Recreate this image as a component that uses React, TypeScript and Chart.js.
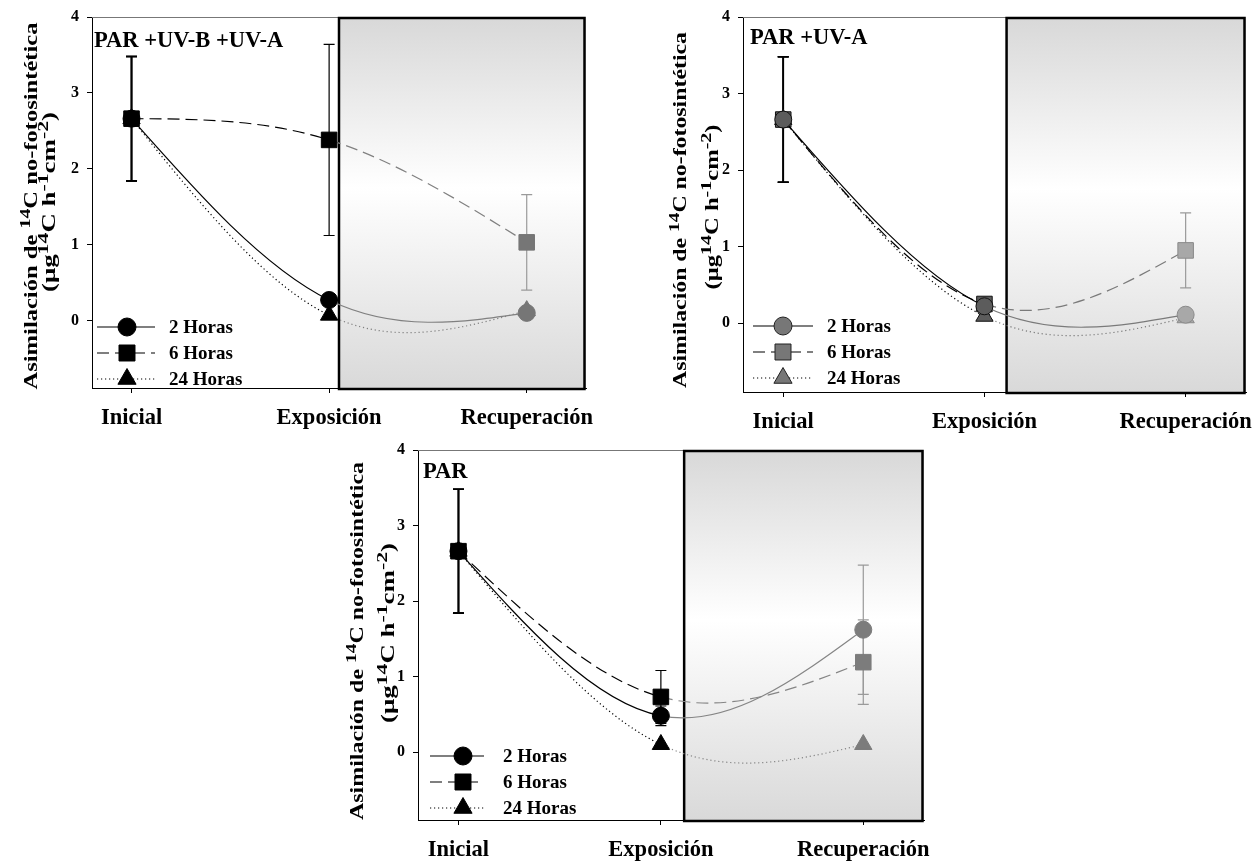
import { useEffect, useRef } from 'react';
import { Chart, registerables } from 'chart.js';

Chart.register(...registerables);

const FONT = "'Liberation Serif', 'Times New Roman', serif";
Chart.defaults.font.family = FONT;

// ---------- DATA ----------
const categories = ['Inicial', 'Exposición', 'Recuperación'];
const xValues = [0, 1, 2];
const yTicks = [0, 1, 2, 3, 4];
const seriesNames = ['2 Horas', '6 Horas', '24 Horas'];

// Panel 1: PAR +UV-B +UV-A
const p1Title = 'PAR +UV-B +UV-A';
const p1Horas2 = [2.66, 0.27, 0.1];
const p1Horas6 = [2.66, 2.38, 1.03];
const p1Horas24 = [2.66, 0.07, 0.13];
const p1Err2 = [0.82, 0, 0];
const p1Err6 = [0.82, 1.26, 0.63];
const p1Err24 = [0.82, 0, 0];

// Panel 2: PAR +UV-A
const p2Title = 'PAR +UV-A';
const p2Horas2 = [2.66, 0.22, 0.11];
const p2Horas6 = [2.66, 0.25, 0.95];
const p2Horas24 = [2.66, 0.09, 0.07];
const p2Err2 = [0.82, 0.11, 0];
const p2Err6 = [0.82, 0, 0.49];
const p2Err24 = [0.82, 0, 0];

// Panel 3: PAR
const p3Title = 'PAR';
const p3Horas2 = [2.66, 0.48, 1.62];
const p3Horas6 = [2.66, 0.73, 1.19];
const p3Horas24 = [2.66, 0.1, 0.1];
const p3Err2 = [0.82, 0.13, 0.855];
const p3Err6 = [0.82, 0.35, 0.56];
const p3Err24 = [0.82, 0, 0];

// Axis title text runs
const yTitleLine1 = [{ t: 'Asimilación de ' }, { t: '14', sup: true }, { t: 'C no-fotosintética' }];
const yTitleLine2 = [
  { t: '(μg' }, { t: '14', sup: true }, { t: 'C h' }, { t: '-1', sup: true },
  { t: 'cm' }, { t: '-2', sup: true }, { t: ')' },
];

// ---------- STYLE / LAYOUT ----------
const pointStyles = ['circle', 'rect', 'triangle'];
const pointRadii = [8.5, 11, 10];
const dashes = [[], [12, 6], [1.2, 2.8]];

type PanelCfg = {
  left: number; top: number; width: number; height: number;
  area: { left: number; top: number; right: number; bottom: number };
  yMin: number; boxStart: number;
  title: string; titleX: number; titleY: number;
  yt: { x1: number; x2: number; c1: number; c2: number; len1: number; len2: number };
  legend: { x0: number; x1: number; mx: number; tx: number; rows: number[] };
  earlyFill: string; earlyStroke: string; lateFill: string; lateStroke: string;
  lateLine: string; legendFill: string; legendStroke: string;
};

const panel1: PanelCfg = {
  left: 0, top: 0, width: 600, height: 440,
  area: { left: 92, top: 17, right: 586, bottom: 388 },
  yMin: -0.89, boxStart: 1.05,
  title: p1Title, titleX: 94, titleY: 47,
  yt: { x1: 37, x2: 55, c1: 206, c2: 202, len1: 367, len2: 180 },
  legend: { x0: 97, x1: 155, mx: 127, tx: 169, rows: [327, 353, 379] },
  earlyFill: '#000', earlyStroke: '#000', lateFill: '#767676', lateStroke: '#767676',
  lateLine: '#808080', legendFill: '#000', legendStroke: '#000',
};

const panel2: PanelCfg = {
  left: 620, top: 0, width: 638, height: 440,
  area: { left: 123, top: 17, right: 628, bottom: 392 },
  yMin: -0.9, boxStart: 1.11,
  title: p2Title, titleX: 130, titleY: 44,
  yt: { x1: 66, x2: 98, c1: 210, c2: 207, len1: 356, len2: 165 },
  legend: { x0: 133, x1: 193, mx: 163, tx: 207, rows: [326, 352, 378] },
  earlyFill: '#5c5c5c', earlyStroke: '#111', lateFill: '#a8a8a8', lateStroke: '#8a8a8a',
  lateLine: '#7a7a7a', legendFill: '#777', legendStroke: '#222',
};

const panel3: PanelCfg = {
  left: 330, top: 430, width: 620, height: 432,
  area: { left: 88, top: 20, right: 594, bottom: 390 },
  yMin: -0.9, boxStart: 1.115,
  title: p3Title, titleX: 93, titleY: 48,
  yt: { x1: 33, x2: 64, c1: 211, c2: 203, len1: 358, len2: 180 },
  legend: { x0: 100, x1: 154, mx: 133, tx: 173, rows: [326, 352, 378] },
  earlyFill: '#000', earlyStroke: '#000', lateFill: '#7c7c7c', lateStroke: '#7c7c7c',
  lateLine: '#858585', legendFill: '#000', legendStroke: '#000',
};

// ---------- HELPERS ----------
function drawShape(ctx: CanvasRenderingContext2D, style: string, x: number, y: number, r: number) {
  ctx.beginPath();
  if (style === 'circle') {
    ctx.arc(x, y, r, 0, Math.PI * 2);
  } else if (style === 'rect') {
    const s = r * Math.SQRT1_2;
    ctx.rect(x - s, y - s, 2 * s, 2 * s);
  } else {
    ctx.moveTo(x, y - r);
    ctx.lineTo(x + 0.866 * r, y + 0.5 * r);
    ctx.lineTo(x - 0.866 * r, y + 0.5 * r);
    ctx.closePath();
  }
  ctx.fill();
  ctx.stroke();
}

function drawRotatedRich(
  ctx: CanvasRenderingContext2D, runs: { t: string; sup?: boolean }[],
  baseX: number, centerY: number, len: number, size: number,
) {
  ctx.save();
  ctx.translate(baseX, centerY);
  ctx.rotate(-Math.PI / 2);
  const normal = `bold ${size}px ${FONT}`;
  const sup = `bold ${Math.round(size * 0.8)}px ${FONT}`;
  const widths = runs.map((r) => { ctx.font = r.sup ? sup : normal; return ctx.measureText(r.t).width; });
  const total = widths.reduce((a, b) => a + b, 0);
  ctx.scale(len / total, 1);
  ctx.fillStyle = '#000';
  ctx.textAlign = 'left';
  ctx.textBaseline = 'alphabetic';
  let x = -total / 2;
  runs.forEach((r, i) => {
    ctx.font = r.sup ? sup : normal;
    ctx.fillText(r.t, x, r.sup ? -size * 0.36 : 0);
    x += widths[i];
  });
  ctx.restore();
}

const splinePlugin = {
  id: 'naturalSpline',
  beforeDatasetDraw(chart: any, args: any) {
    const meta = args.meta;
    const line = meta.dataset;
    if (!line) return;
    line.updateControlPoints(chart.chartArea, 'x');
    const pts = meta.data;
    const n = pts.length;
    if (n < 3) return;
    const X = pts.map((p: any) => p.x);
    const Y = pts.map((p: any) => p.y);
    const h: number[] = [];
    for (let i = 0; i < n - 1; i++) h[i] = X[i + 1] - X[i];
    const M = new Array(n).fill(0);
    const cp: number[] = new Array(n).fill(0);
    const dp: number[] = new Array(n).fill(0);
    for (let i = 1; i < n - 1; i++) {
      const a = h[i - 1], b = 2 * (h[i - 1] + h[i]), c = h[i];
      const d = 6 * ((Y[i + 1] - Y[i]) / h[i] - (Y[i] - Y[i - 1]) / h[i - 1]);
      const den = b - a * cp[i - 1];
      cp[i] = c / den;
      dp[i] = (d - a * dp[i - 1]) / den;
    }
    for (let i = n - 2; i >= 1; i--) M[i] = dp[i] - cp[i] * M[i + 1];
    const s: number[] = [];
    for (let i = 0; i < n - 1; i++) s[i] = (Y[i + 1] - Y[i]) / h[i] - h[i] * (2 * M[i] + M[i + 1]) / 6;
    s[n - 1] = (Y[n - 1] - Y[n - 2]) / h[n - 2] + h[n - 2] * (M[n - 2] + 2 * M[n - 1]) / 6;
    for (let i = 0; i < n; i++) {
      const p = pts[i];
      if (i > 0) { p.cp1x = X[i] - h[i - 1] / 3; p.cp1y = Y[i] - s[i] * h[i - 1] / 3; }
      if (i < n - 1) { p.cp2x = X[i] + h[i] / 3; p.cp2y = Y[i] + s[i] * h[i] / 3; }
    }
  },
};

function makeDecorPlugin(cfg: PanelCfg) {
  return {
    id: 'decor',
    beforeDatasetsDraw(chart: any) {
      const ctx: CanvasRenderingContext2D = chart.ctx;
      const { left, top, right, bottom } = chart.chartArea;
      const xs = chart.scales.x;
      const ys = chart.scales.y;
      const x0 = xs.getPixelForValue(cfg.boxStart);
      ctx.save();
      ctx.strokeStyle = '#777';
      ctx.lineWidth = 1;
      ctx.beginPath();
      ctx.moveTo(left, top + 0.5);
      ctx.lineTo(x0, top + 0.5);
      ctx.stroke();
      const g = ctx.createLinearGradient(0, top, 0, bottom);
      g.addColorStop(0, '#d8d8d8');
      g.addColorStop(0.46, '#ffffff');
      g.addColorStop(1, '#d9d9d9');
      ctx.fillStyle = g;
      ctx.fillRect(x0, top, right - x0, bottom - top);
      ctx.strokeStyle = '#000';
      ctx.lineWidth = 2.5;
      ctx.strokeRect(x0, top + 1, right - x0 - 1.5, bottom - top);
      chart.data.datasets.forEach((ds: any) => {
        const errs: number[] = ds.errors || [];
        ds.data.forEach((pt: any, j: number) => {
          const e = errs[j];
          if (!e) return;
          const px = xs.getPixelForValue(pt.x);
          const yT = ys.getPixelForValue(pt.y + e);
          const yB = ys.getPixelForValue(pt.y - e);
          ctx.strokeStyle = j < 2 ? '#000' : '#9a9a9a';
          ctx.lineWidth = j === 0 ? 1.6 : 1.2;
          ctx.beginPath();
          ctx.moveTo(px, yT); ctx.lineTo(px, yB);
          ctx.moveTo(px - 5.5, yT); ctx.lineTo(px + 5.5, yT);
          ctx.moveTo(px - 5.5, yB); ctx.lineTo(px + 5.5, yB);
          ctx.stroke();
        });
      });
      ctx.restore();
    },
    afterDraw(chart: any) {
      const ctx: CanvasRenderingContext2D = chart.ctx;
      ctx.save();
      ctx.fillStyle = '#000';
      ctx.font = `bold 22.5px ${FONT}`;
      ctx.textAlign = 'left';
      ctx.textBaseline = 'alphabetic';
      ctx.fillText(cfg.title, cfg.titleX, cfg.titleY);
      drawRotatedRich(ctx, yTitleLine1, cfg.yt.x1, cfg.yt.c1, cfg.yt.len1, 18.5);
      drawRotatedRich(ctx, yTitleLine2, cfg.yt.x2, cfg.yt.c2, cfg.yt.len2, 18.5);
      const L = cfg.legend;
      chart.data.datasets.forEach((ds: any, i: number) => {
        const y = L.rows[i];
        ctx.strokeStyle = '#000';
        ctx.lineWidth = 1.2;
        ctx.setLineDash(dashes[i]);
        ctx.beginPath();
        ctx.moveTo(L.x0, y);
        ctx.lineTo(L.x1, y);
        ctx.stroke();
        ctx.setLineDash([]);
        ctx.fillStyle = cfg.legendFill;
        ctx.strokeStyle = cfg.legendStroke;
        ctx.lineWidth = 1;
        drawShape(ctx, pointStyles[i], L.mx, y, [9, 11.3, 10.5][i]);
        ctx.fillStyle = '#000';
        ctx.font = `bold 19px ${FONT}`;
        ctx.textBaseline = 'middle';
        ctx.fillText(ds.label, L.tx, y + 1);
      });
      ctx.restore();
    },
  };
}

function buildDatasets(cfg: PanelCfg, values: number[][], errors: number[][]) {
  return seriesNames.map((name, i) => ({
    label: name,
    data: xValues.map((x, j) => ({ x, y: values[i][j] })),
    errors: errors[i],
    borderColor: '#000',
    borderWidth: 1.2,
    borderDash: dashes[i],
    pointStyle: pointStyles[i],
    pointRadius: pointRadii[i],
    pointBackgroundColor: xValues.map((_, j) => (j < 2 ? cfg.earlyFill : cfg.lateFill)),
    pointBorderColor: xValues.map((_, j) => (j < 2 ? cfg.earlyStroke : cfg.lateStroke)),
    pointBorderWidth: 1,
    tension: 0.4,
    capBezierPoints: false,
    fill: false,
    clip: 20,
    segment: {
      borderColor: (c: any) => (c.p0DataIndex === 0 ? '#000' : cfg.lateLine),
    },
  }));
}

function Panel({ cfg, values, errors }: { cfg: PanelCfg; values: number[][]; errors: number[][] }) {
  const ref = useRef<HTMLCanvasElement>(null);
  useEffect(() => {
    const a = cfg.area;
    const chart = new Chart(ref.current as HTMLCanvasElement, {
      type: 'line',
      data: { datasets: buildDatasets(cfg, values, errors) as any },
      options: {
        responsive: false,
        animation: false,
        devicePixelRatio: 1,
        layout: { padding: { left: 0, top: a.top, right: cfg.width - a.right, bottom: 0 } },
        plugins: { legend: { display: false }, tooltip: { enabled: false } },
        scales: {
          x: {
            type: 'linear',
            min: -0.2,
            max: 2.3,
            afterBuildTicks: (s: any) => { s.ticks = xValues.map((v) => ({ value: v })); },
            afterFit: (s: any) => {
              s.height = cfg.height - a.bottom;
              s.paddingLeft = 0; s.paddingRight = 0;
            },
            ticks: {
              autoSkip: false,
              maxRotation: 0,
              padding: 12,
              color: '#000',
              font: { size: 22.5, weight: 'bold', family: FONT },
              callback: (_v: any, i: number) => categories[i],
            },
            grid: { drawOnChartArea: false, drawTicks: true, tickLength: 5, color: '#000', lineWidth: 1 },
            border: { display: true, color: '#000', width: 1 },
          },
          y: {
            type: 'linear',
            min: cfg.yMin,
            max: 4,
            afterBuildTicks: (s: any) => { s.ticks = yTicks.map((v) => ({ value: v })); },
            afterFit: (s: any) => {
              s.width = a.left;
              s.paddingTop = 0; s.paddingBottom = 0;
            },
            ticks: {
              padding: 8,
              color: '#000',
              font: { size: 16, weight: 'bold', family: FONT },
              callback: (v: any) => String(v),
            },
            grid: { drawOnChartArea: false, drawTicks: true, tickLength: 5, color: '#000', lineWidth: 1 },
            border: { display: true, color: '#000', width: 1 },
          },
        },
      } as any,
      plugins: [splinePlugin, makeDecorPlugin(cfg)] as any,
    });
    return () => chart.destroy();
  }, []);
  return (
    <canvas
      ref={ref}
      width={cfg.width}
      height={cfg.height}
      style={{ position: 'absolute', left: cfg.left, top: cfg.top, width: cfg.width, height: cfg.height }}
    />
  );
}

export default function App() {
  return (
    <div style={{ position: 'absolute', left: 0, top: 0, width: 1258, height: 862, background: '#fff', overflow: 'hidden' }}>
      <Panel cfg={panel1} values={[p1Horas2, p1Horas6, p1Horas24]} errors={[p1Err2, p1Err6, p1Err24]} />
      <Panel cfg={panel2} values={[p2Horas2, p2Horas6, p2Horas24]} errors={[p2Err2, p2Err6, p2Err24]} />
      <Panel cfg={panel3} values={[p3Horas2, p3Horas6, p3Horas24]} errors={[p3Err2, p3Err6, p3Err24]} />
    </div>
  );
}
